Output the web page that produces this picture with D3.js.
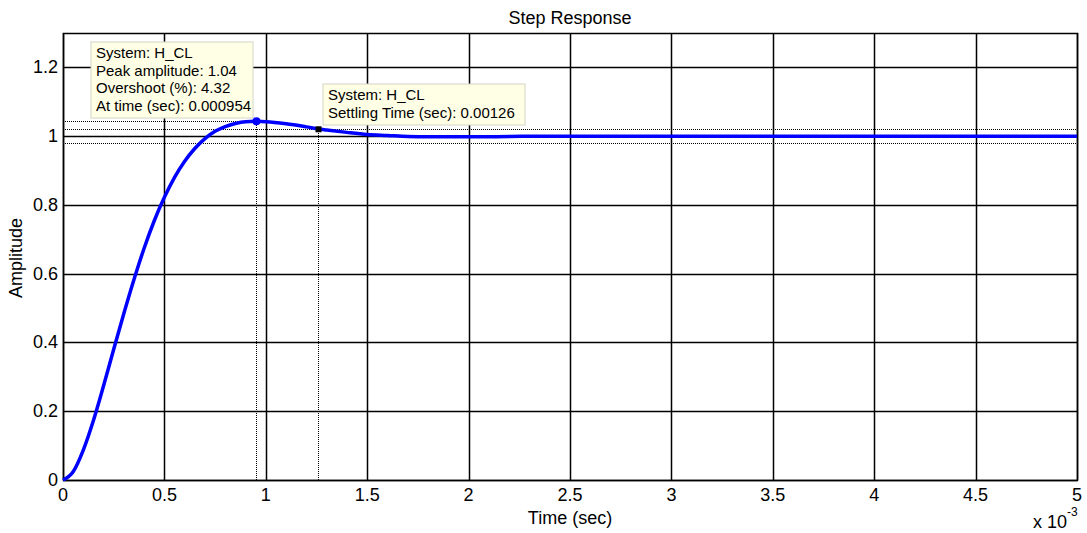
<!DOCTYPE html>
<html>
  <head>
    <title>Step Response</title>
    <meta charset="utf-8">
    <script src="https://d3js.org/d3.v7.min.js"></script>
    <style type="text/css">
      body { margin: 0; background: #fff; }
      #chart text { font-family: Arial, "Liberation Sans", sans-serif; fill: #000; }
      .grid line { stroke: #000; stroke-width: 1.5; }
      .tick-label { font-size: 18px; }
      .tip text { font-size: 15px; }
    </style>
  </head>
  <body>
    <svg id="chart"></svg>
    <script>
      // step response (time in ms)
      var timeMs = [0, 0.05, 0.1, 0.15, 0.2, 0.25, 0.3, 0.35, 0.4, 0.45, 0.5, 0.55, 0.6, 0.65, 0.7,
                    0.75, 0.8, 0.85, 0.9, 0.954, 1.0, 1.1, 1.2, 1.26, 1.3, 1.4, 1.5, 1.6, 1.7, 1.8,
                    1.9, 2.0, 2.2, 2.4, 2.6, 3.0, 3.5, 4.0, 4.5, 5.0];
      var amplitude = [0, 0.024, 0.087, 0.173, 0.274, 0.380, 0.484, 0.583, 0.674, 0.754, 0.822, 0.880, 0.927, 0.964, 0.993,
                       1.014, 1.028, 1.037, 1.042, 1.043, 1.042, 1.036, 1.027, 1.021, 1.018, 1.011, 1.005, 1.002, 0.999, 0.998,
                       0.998, 0.998, 0.999, 1.0, 1.0, 1.0, 1.0, 1.0, 1.0, 1.0];

      var xTicks = [0, 0.5, 1, 1.5, 2, 2.5, 3, 3.5, 4, 4.5, 5];
      var yTicks = [0, 0.2, 0.4, 0.6, 0.8, 1, 1.2];

      // characteristics shown by the data tips
      var peakTime = 0.954, peakAmp = 1.0432;
      var settleTime = 1.26, settleAmp = 1.02;
      var settleBand = [1.02, 0.98];
      var peakTip = ["System: H_CL", "Peak amplitude: 1.04", "Overshoot (%): 4.32", "At time (sec): 0.000954"];
      var settleTip = ["System: H_CL", "Settling Time (sec): 0.00126"];

      var W = 1087, H = 533;
      var pLeft = 63, pTop = 33, pRight = 1077, pBottom = 480;

      var svg = d3.select("#chart")
          .attr("width", W)
          .attr("height", H);

      var x = d3.scaleLinear().domain([0, 5]).range([pLeft, pRight]);
      var y = d3.scaleLinear().domain([0, 1.3]).range([pBottom, pTop]);

      // snap grid lines to pixel centres so they look even
      function snap(v) { return Math.round(v) + 0.5; }

      // grid
      var grid = svg.append("g").attr("class", "grid");
      grid.selectAll(".gx").data(xTicks).enter().append("line")
          .attr("x1", function(d) { return snap(x(d)); })
          .attr("x2", function(d) { return snap(x(d)); })
          .attr("y1", pTop).attr("y2", pBottom);
      grid.selectAll(".gy").data(yTicks).enter().append("line")
          .attr("y1", function(d) { return snap(y(d)); })
          .attr("y2", function(d) { return snap(y(d)); })
          .attr("x1", pLeft).attr("x2", pRight);

      // box
      svg.append("rect")
          .attr("x", snap(pLeft)).attr("y", snap(pTop))
          .attr("width", pRight - pLeft).attr("height", pBottom - pTop)
          .attr("fill", "none").attr("stroke", "#000").attr("stroke-width", 1.5);

      // tick labels
      svg.selectAll(".xl").data(xTicks).enter().append("text")
          .attr("class", "tick-label")
          .attr("x", function(d) { return x(d); })
          .attr("y", 501)
          .attr("text-anchor", "middle")
          .text(function(d) { return d; });
      svg.selectAll(".yl").data(yTicks).enter().append("text")
          .attr("class", "tick-label")
          .attr("x", 58)
          .attr("y", function(d) { return y(d) + 6; })
          .attr("text-anchor", "end")
          .text(function(d) { return d; });

      // exponent
      var ex = svg.append("text").attr("class", "tick-label").attr("x", 1033).attr("y", 528);
      ex.append("tspan").text("x 10");
      ex.append("tspan").attr("dy", -12).attr("font-size", "12px").text("-3");

      // titles
      svg.append("text").attr("x", (pLeft + pRight) / 2).attr("y", 24)
          .attr("text-anchor", "middle").style("font-size", "18px").text("Step Response");
      svg.append("text").attr("x", (pLeft + pRight) / 2).attr("y", 524)
          .attr("text-anchor", "middle").style("font-size", "18px").text("Time (sec)");
      svg.append("text").attr("transform", "translate(22," + 258 + ") rotate(-90)")
          .attr("text-anchor", "middle").style("font-size", "18px").text("Amplitude");

      // characteristic guide lines (dotted)
      var dots = svg.append("g")
          .attr("stroke", "#000").attr("stroke-width", 1).attr("stroke-dasharray", "1,1")
          .attr("shape-rendering", "crispEdges");
      dots.selectAll(".band").data(settleBand).enter().append("line")
          .attr("x1", pLeft).attr("x2", pRight)
          .attr("y1", function(d) { return y(d); })
          .attr("y2", function(d) { return y(d); });
      dots.append("line")
          .attr("x1", pLeft).attr("x2", x(peakTime))
          .attr("y1", y(peakAmp)).attr("y2", y(peakAmp));
      dots.append("line")
          .attr("x1", x(peakTime)).attr("x2", x(peakTime))
          .attr("y1", y(peakAmp)).attr("y2", pBottom);
      dots.append("line")
          .attr("x1", x(settleTime)).attr("x2", x(settleTime))
          .attr("y1", y(settleAmp)).attr("y2", pBottom);

      // response curve
      var line = d3.line()
          .x(function(d, i) { return x(timeMs[i]); })
          .y(function(d) { return y(d); })
          .curve(d3.curveMonotoneX);
      svg.append("path")
          .datum(amplitude)
          .attr("d", line)
          .attr("fill", "none")
          .attr("stroke", "#0000ff")
          .attr("stroke-width", 3.5)
          .attr("stroke-linejoin", "round");

      // markers
      svg.append("circle")
          .attr("cx", x(peakTime)).attr("cy", y(peakAmp)).attr("r", 4)
          .attr("fill", "#0000ff");
      svg.append("rect")
          .attr("x", x(settleTime) - 3).attr("y", y(settleAmp) - 3)
          .attr("width", 6).attr("height", 6)
          .attr("fill", "#000");

      // data tips
      function tip(lines, bx, by, bw, bh) {
        var g = svg.append("g").attr("class", "tip");
        g.append("rect")
            .attr("x", bx).attr("y", by).attr("width", bw).attr("height", bh)
            .attr("fill", "#ffffe6").attr("stroke", "#d4d4c4").attr("stroke-width", 1);
        g.selectAll("text").data(lines).enter().append("text")
            .attr("x", bx + 5)
            .attr("y", function(d, i) { return by + 16 + i * 17.6; })
            .text(function(d) { return d; });
      }
      tip(peakTip, 91, 42, 162, 76);
      tip(settleTip, 323, 84, 202, 41);
    </script>
  </body>
</html>
